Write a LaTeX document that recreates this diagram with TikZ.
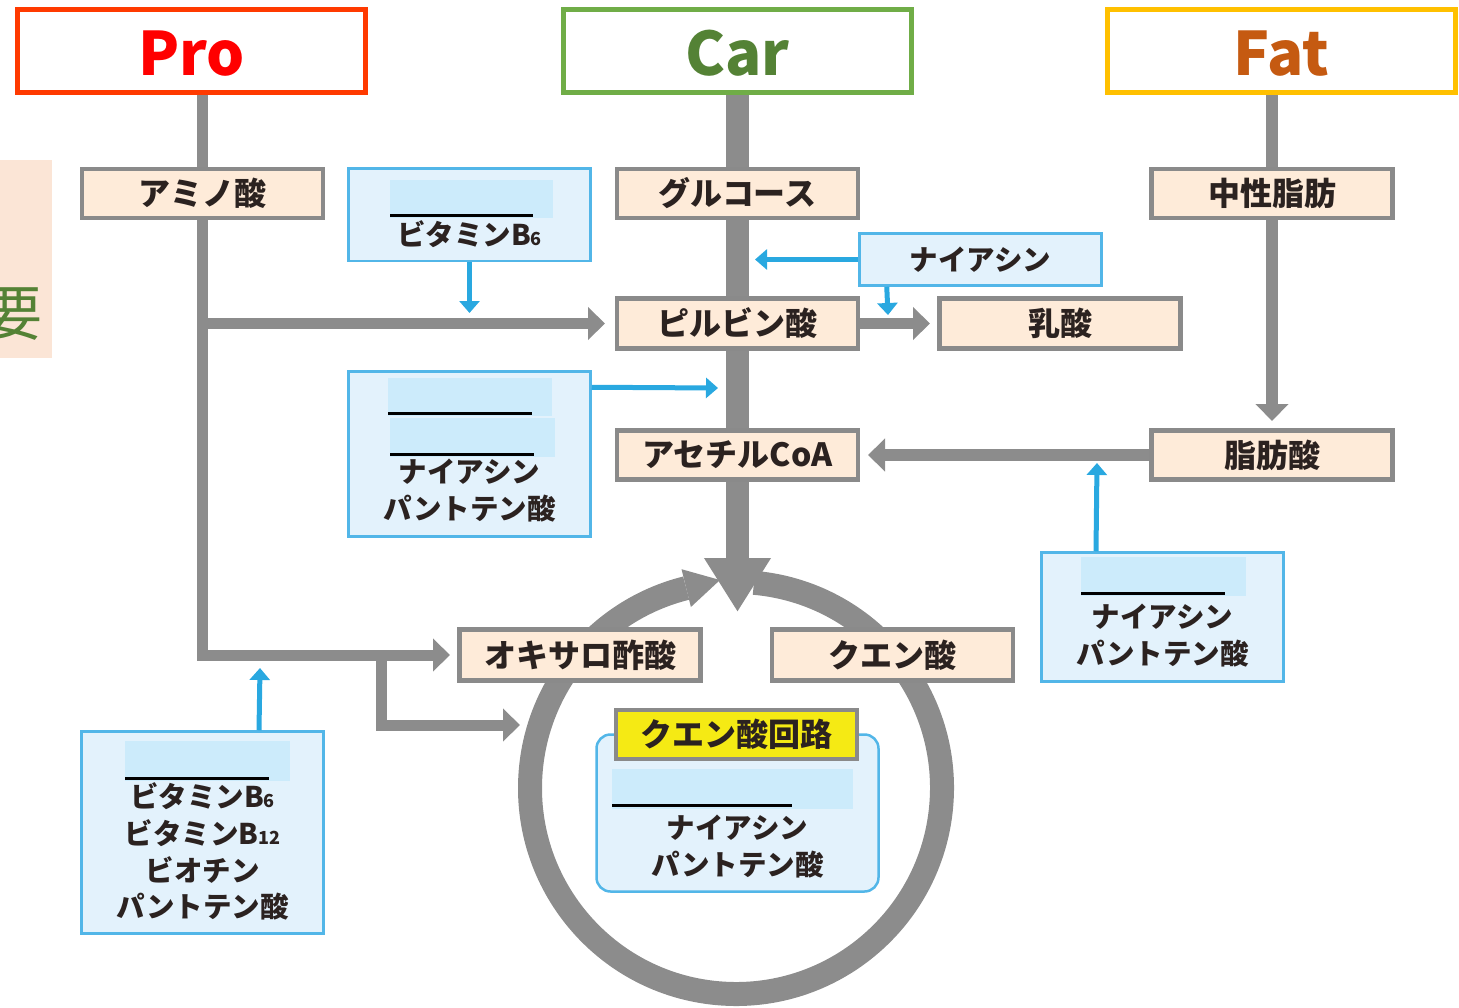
\documentclass[tikz,border=0pt]{standalone}
\usepackage{fontspec}
\newfontfamily\jp{Noto Sans CJK JP}
\usetikzlibrary{arrows.meta}
\pgfdeclarelayer{bg}
\pgfsetlayers{bg,main}
\definecolor{proborder}{HTML}{FF3A00}
\definecolor{protext}{HTML}{FF0000}
\definecolor{carborder}{HTML}{70AD47}
\definecolor{cartext}{HTML}{548235}
\definecolor{fatborder}{HTML}{FFC000}
\definecolor{fattext}{HTML}{C55A11}
\definecolor{lgray}{HTML}{8C8C8C}
\definecolor{boxgray}{HTML}{8A8A8A}
\definecolor{peach}{HTML}{FEEBD9}
\definecolor{bfill}{HTML}{E3F2FC}
\definecolor{bborder}{HTML}{52B6E8}
\definecolor{barrowc}{HTML}{29A8E0}
\definecolor{hlc}{HTML}{CCEBFB}
\definecolor{cyellow}{HTML}{F5EA14}
\definecolor{stripc}{HTML}{FBE5D6}
\definecolor{ink}{HTML}{2B2220}
\begin{document}
\begin{tikzpicture}[x=1pt,y=-1pt,
  tbox/.style={line width=5pt, fill=white, minimum width=348pt, minimum height=83pt, inner sep=0pt, text height=49pt, text depth=0pt, font=\jp\bfseries\fontsize{60}{62}\selectfont},
  gbox/.style={draw=boxgray, line width=4.5pt, fill=peach, minimum width=241pt, minimum height=49pt, inner sep=0pt, text=ink, font=\jp\bfseries\fontsize{32}{34}\selectfont},
  bbox/.style={draw=bborder, line width=2.5pt, fill=bfill, inner sep=0pt, minimum width=242pt},
  btext/.style={text=ink, inner sep=0pt, font=\jp\bfseries\fontsize{28.5}{30}\selectfont},
  garrow/.style={draw=lgray, line width=11pt, -{Triangle[length=17pt,width=32pt]}},
  gline/.style={draw=lgray, line width=11pt},
  barrow/.style={draw=barrowc, line width=5pt, -{Triangle[length=12pt,width=20pt]}},
  hl/.style={fill=hlc},
  ul/.style={draw=black, line width=3pt}
]
\useasboundingbox (0,0) rectangle (1459,1007);

% title boxes
\node[tbox, draw=proborder, text=protext] (pro) at (191.5,51) {Pro};
\node[tbox, draw=carborder, text=cartext] (car) at (737.5,51) {Car};
\node[tbox, draw=fatborder, text=fattext] (fat) at (1281,51) {Fat};

% blue boxes with highlights
\node[bbox, minimum height=92.5pt] (b6box) at (469.5,214.5) {};
\fill[hl] (390,180) rectangle (553,218);
\draw[ul] (390,215) -- (533,215);
\node[btext] (b6txt) at (469.5,234) {ビタミンB{\fontsize{18}{18}\selectfont 6}};

\node[bbox, minimum height=52pt] (nia1) at (980.5,259.5) {};
\node[btext] (nia1txt) at (980.5,260) {ナイアシン};

\node[bbox, minimum height=165pt] (nbox2) at (469.5,454) {};
\fill[hl] (388,378) rectangle (552,416);
\draw[ul] (388,413) -- (532,413);
\fill[hl] (390,418) rectangle (555,457);
\draw[ul] (390,454) -- (534,454);
\node[btext] (nb2a) at (469.5,472) {ナイアシン};
\node[btext] (nb2b) at (469.5,509) {パントテン酸};

\node[bbox, minimum height=129pt] (nbox3) at (1162.5,617) {};
\fill[hl] (1081,557) rectangle (1246,596);
\draw[ul] (1081,593) -- (1225,593);
\node[btext] (nb3a) at (1162.5,617) {ナイアシン};
\node[btext] (nb3b) at (1162.5,654) {パントテン酸};

\node[bbox, minimum height=202pt] (bbox4) at (202.5,832.5) {};
\fill[hl] (125,741) rectangle (290,781);
\draw[ul] (125,778) -- (269,778);
\node[btext] (b4a) at (202.5,796) {ビタミンB{\fontsize{18}{18}\selectfont 6}};
\node[btext] (b4b) at (202.5,833) {ビタミンB{\fontsize{18}{18}\selectfont 12}};
\node[btext] (b4c) at (202.5,870) {ビオチン};
\node[btext] (b4d) at (202.5,907) {パントテン酸};

\node[bbox, rounded corners=14pt, minimum width=282pt, minimum height=157pt] (cbox) at (737.5,813) {};
\fill[hl] (612,769) rectangle (853,809);
\draw[ul] (612,805) -- (792,805);
\node[btext] (cba) at (737.5,828) {ナイアシン};
\node[btext] (cbb) at (737.5,865) {パントテン酸};

% peach boxes
\node[gbox] (amino) at (202.5,193.5) {アミノ酸};
\node[gbox] (glu) at (737.5,193.5) {グルコース};
\node[gbox, minimum height=50pt] (pyr) at (737.5,323.5) {ピルビン酸};
\node[gbox, minimum height=50pt] (lac) at (1060,323.5) {乳酸};
\node[gbox] (tg) at (1272,193.5) {中性脂肪};
\node[gbox] (acoa) at (737.5,455) {アセチルCoA};
\node[gbox] (fa) at (1272,455) {脂肪酸};
\node[gbox, minimum height=51pt] (oxa) at (580,655) {オキサロ酢酸};
\node[gbox, minimum height=51pt] (cit) at (892.5,655) {クエン酸};
\node[gbox, fill=cyellow] (tca) at (736.5,734.5) {クエン酸回路};

% coordinates
\coordinate (j1) at (202.5,323.5);
\coordinate (j2) at (202.5,655);
\coordinate (j3) at (381,655);
\coordinate (j4) at (381,725);
\coordinate (ringL) at (520,725);
\coordinate (oxaT) at (450,655);
\coordinate (pyrT) at (605,323.5);
\coordinate (lacT) at (930,323.5);
\coordinate (carT) at (737.5,612);
\coordinate (faT) at (1272,421);
\coordinate (acoaT) at (868,455);
\coordinate (rc) at (736,788);

\begin{pgfonlayer}{bg}
  % left strip
  \fill[stripc] (0,160) rectangle (52,358);
  \begin{scope}
    \clip (0,160) rectangle (52,358);
    \node[text=cartext, inner sep=0pt, font=\jp\fontsize{60}{60}\selectfont] (yo) at (12.5,314) {要};
  \end{scope}
  % ring
  \draw[lgray, line width=24pt] ([shift={(-85:206)}]rc) arc[start angle=-85, end angle=256, radius=206];
  \fill[lgray] (681.5,569.2) -- (720,580) -- (690.9,607) -- cycle;
  % gray connectors
  \draw[garrow] ([xshift=11pt]pro.south) -- (j2) -- (oxaT);
  \draw[garrow] (j1) -- (pyrT);
  \draw[garrow] (j3) -- (j4) -- (ringL);
  \draw[draw=lgray, line width=23pt, -{Triangle[length=54pt,width=63pt]}] (car.south) -- (carT);
  \draw[garrow] (pyr.east) -- (lacT);
  \draw[gline, line width=12pt] ([xshift=-9pt]fat.south) -- (tg.north);
  \draw[garrow, line width=12pt] (tg.south) -- (faT);
  \draw[garrow, line width=12pt] (fa.west) -- (acoaT);
\end{pgfonlayer}

% blue arrows
\coordinate (b6T) at (469.5,313);
\coordinate (niaT) at (755,259.5);
\coordinate (nia2T) at (888,315);
\coordinate (nb2T) at (718,388);
\coordinate (nb3T) at (1097,463);
\coordinate (b4T) at (260,668);
\draw[barrow] (b6box.south) -- (b6T);
\draw[barrow] (nia1.west) -- (niaT);
\draw[barrow] ([xshift=28.5pt]nia1.south west) -- (nia2T);
\draw[barrow] ([yshift=-17pt]nbox2.north east) -- (nb2T);
\draw[barrow] ([xshift=55.75pt]nbox3.north west) -- (nb3T);
\draw[barrow] ([xshift=178.75pt]bbox4.north west) -- (b4T);
\end{tikzpicture}
\end{document}
